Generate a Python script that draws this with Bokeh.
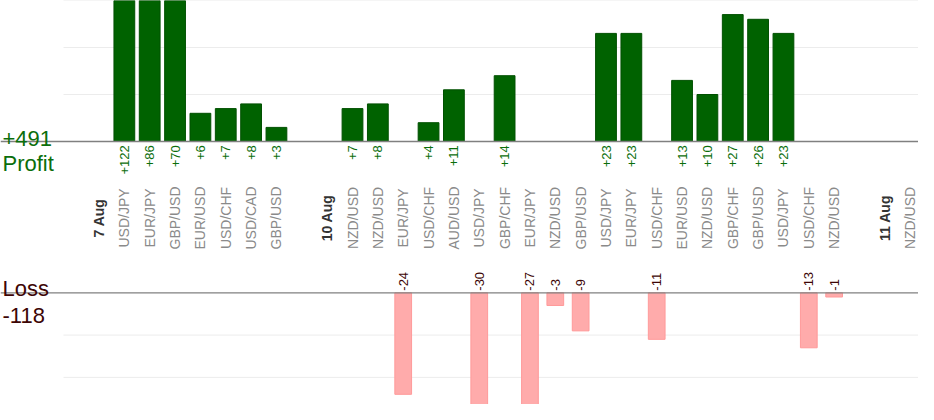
import math
from bokeh.plotting import figure
from bokeh.models import Range1d, Span, Label, ColumnDataSource
from bokeh.core.properties import value
from bokeh.embed import file_html
from bokeh.resources import INLINE

# ---- data -------------------------------------------------------------
categories = ["7 Aug", "USD/JPY", "EUR/JPY", "GBP/USD", "EUR/USD", "USD/CHF", "USD/CAD", "GBP/USD",
              "",
              "10 Aug", "NZD/USD", "NZD/USD", "EUR/JPY", "USD/CHF", "AUD/USD", "USD/JPY", "GBP/CHF",
              "EUR/JPY", "NZD/USD", "GBP/USD", "USD/JPY", "EUR/JPY", "USD/CHF", "EUR/USD", "NZD/USD",
              "GBP/CHF", "GBP/USD", "USD/JPY", "USD/CHF", "NZD/USD",
              "",
              "11 Aug", "NZD/USD"]
results = [None, 122, 86, 70, 6, 7, 8, 3,
           None,
           None, 7, 8, -24, 4, 11, -30, 14,
           -27, -3, -9, 23, 23, -11, 13, 10,
           27, 26, 23, -13, -1,
           None,
           None, None]
date_labels = ["7 Aug", "10 Aug", "11 Aug"]
profit_grid = [10, 20, 30]
loss_grid = [-10, -20]

# ---- derived -----------------------------------------------------------
idx = list(range(len(categories)))
prof_x = [i for i in idx if results[i] is not None and results[i] > 0]
prof_v = [results[i] for i in prof_x]
loss_x = [i for i in idx if results[i] is not None and results[i] < 0]
loss_v = [results[i] for i in loss_x]
total_profit = sum(prof_v)
total_loss = sum(loss_v)

date_x = [i for i in idx if categories[i] in date_labels]
date_t = [categories[i] for i in date_x]
pair_x = [i for i in idx if categories[i] and categories[i] not in date_labels]
pair_t = [categories[i] for i in pair_x]

FONT = "Liberation Sans"
GREEN_TXT = "#0b6e0b"
LOSS_TXT = "#3d0505"

# layout geometry (canvas px): slot 0 at x=98.5, slot step 25.35
W, H = 918, 404
SLOT0, STEP = 98.5, 25.35
x0 = (0 - SLOT0) / STEP
x1 = (W - SLOT0) / STEP
p_scale, p_base = 4.7, 141.0
l_scale, l_base = 4.23, 292.3
frame_top, frame_bot = 0.0, float(H)

p = figure(width=W, height=H, output_backend="svg", toolbar_location=None,
           x_axis_type=None, y_axis_type=None,
           x_range=Range1d(x0, x1),
           y_range=Range1d(-(frame_bot - p_base) / p_scale, (p_base - frame_top) / p_scale),
           min_border=0)
p.extra_y_ranges = {"loss": Range1d(-(frame_bot - l_base) / l_scale, (l_base - frame_top) / l_scale)}
p.outline_line_color = None
p.xgrid.visible = False
p.ygrid.visible = False
p.background_fill_color = "white"
p.border_fill_color = "white"

# grid lines
p.segment(x0=[-1.4] * len(profit_grid), x1=[x1 + 1] * len(profit_grid), y0=profit_grid, y1=profit_grid,
          line_color="#ececec", line_width=1)
p.segment(x0=[-1.4] * len(loss_grid), x1=[x1 + 1] * len(loss_grid), y0=loss_grid, y1=loss_grid,
          line_color="#ececec", line_width=1, y_range_name="loss")

# bars
psrc = ColumnDataSource(dict(x=prof_x, v=prof_v, t=["+%d" % v for v in prof_v]))
lsrc = ColumnDataSource(dict(x=loss_x, v=loss_v, t=["%d" % v for v in loss_v]))
p.vbar(x="x", top="v", bottom=0, width=0.82, source=psrc,
       fill_color="#006200", line_color="#005000", line_width=1)
p.vbar(x="x", top=0, bottom="v", width=0.66, source=lsrc, y_range_name="loss",
       fill_color="#ffabab", line_color="#ff9a9a", line_width=1)

# baselines
p.add_layout(Span(location=0, dimension="width", line_color="#808080", line_width=1.3))
p.add_layout(Span(location=0, dimension="width", line_color="#808080", line_width=1.3, y_range_name="loss"))

# value labels
p.text(x="x", y=-0.8, text="t", source=psrc, angle=math.pi / 2,
       text_align="right", text_baseline="middle",
       text_font=value(FONT), text_font_size=value("13px"), text_color=GREEN_TXT)
p.text(x="x", y=0.5, text="t", source=lsrc, angle=math.pi / 2, y_range_name="loss",
       text_align="left", text_baseline="middle",
       text_font=value(FONT), text_font_size=value("13px"), text_color=LOSS_TXT)

# category labels
cat_y = -(217.5 - p_base) / p_scale
p.text(x=pair_x, y=[cat_y] * len(pair_x), text=pair_t, angle=math.pi / 2,
       text_align="center", text_baseline="middle",
       text_font=value(FONT), text_font_size=value("14px"), text_color="#8a8a8a")
p.text(x=date_x, y=[cat_y] * len(date_x), text=date_t, angle=math.pi / 2,
       text_align="center", text_baseline="middle",
       text_font=value(FONT), text_font_size=value("14px"), text_font_style="bold",
       text_color="#333333")

# totals
p.add_layout(Label(x=2, y=(p_base - 138) / p_scale, x_units="screen", text="+%d" % total_profit,
                   text_font=FONT, text_font_size="22px", text_color=GREEN_TXT,
                   text_baseline="alphabetic"))
p.add_layout(Label(x=2, y=-(162.5 - p_base) / p_scale, x_units="screen", text="Profit",
                   text_font=FONT, text_font_size="22px", text_color=GREEN_TXT,
                   text_baseline="alphabetic"))
p.add_layout(Label(x=2, y=(l_base - 288) / l_scale, x_units="screen", text="Loss",
                   y_range_name="loss",
                   text_font=FONT, text_font_size="22px", text_color=LOSS_TXT,
                   text_baseline="alphabetic"))
p.add_layout(Label(x=2, y=-(314.5 - l_base) / l_scale, x_units="screen", text="%d" % total_loss,
                   y_range_name="loss",
                   text_font=FONT, text_font_size="22px", text_color=LOSS_TXT,
                   text_baseline="alphabetic"))

open("out.html", "w").write(file_html(p, INLINE))
